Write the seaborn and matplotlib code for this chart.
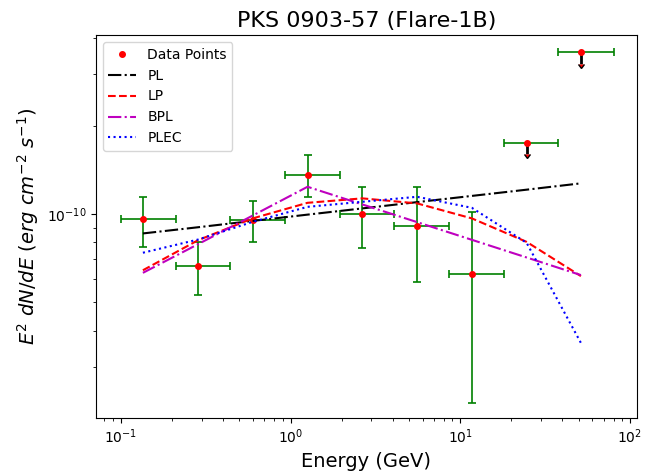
import numpy as np
import matplotlib
matplotlib.use("Agg")
import matplotlib.pyplot as plt
import seaborn as sns

# energy bins (GeV): centre, lower edge, upper edge
energy = [0.135, 0.286, 0.599, 1.26, 2.65, 5.57, 11.7, 24.6, 51.4]
e_low = [0.100, 0.211, 0.440, 0.928, 1.96, 4.09, 8.60, 18.2, 37.9]
e_high = [0.211, 0.440, 0.928, 1.96, 4.09, 8.60, 18.2, 37.9, 80.0]

# detected bins (E^2 dN/dE, erg cm^-2 s^-1)
flux = [9.59e-11, 6.65e-11, 9.52e-11, 1.363e-10, 1.00e-10, 9.12e-11, 6.24e-11]
flux_lo = [7.73e-11, 5.29e-11, 8.00e-11, 1.146e-10, 7.65e-11, 5.87e-11, 2.27e-11]
flux_hi = [1.146e-10, 8.04e-11, 1.108e-10, 1.59e-10, 1.24e-10, 1.24e-10, 1.018e-10]

# upper limits for the last two bins
ul_flux = [1.75e-10, 3.57e-10]

# fitted models at the bin centres
pl = [8.59e-11, 9.02e-11, 9.48e-11, 9.96e-11, 1.046e-10, 1.099e-10, 1.154e-10, 1.212e-10, 1.274e-10]
lp = [6.43e-11, 8.15e-11, 9.67e-11, 1.093e-10, 1.132e-10, 1.088e-10, 9.67e-11, 8.04e-11, 6.14e-11]
bpl = [6.30e-11, 7.90e-11, 9.89e-11, 1.240e-10, 1.079e-10, 9.39e-11, 8.17e-11, 7.11e-11, 6.19e-11]
plec = [7.38e-11, 8.19e-11, 9.41e-11, 1.059e-10, 1.102e-10, 1.146e-10, 1.051e-10, 7.98e-11, 3.63e-11]


def main():
    E = np.array(energy)
    xerr = np.array([E - np.array(e_low), np.array(e_high) - E])
    n = len(flux)
    f = np.array(flux)
    yerr = [f - np.array(flux_lo), np.array(flux_hi) - f]
    ul = np.array(ul_flux)

    fig, ax = plt.subplots(figsize=(6.52, 4.74), dpi=100)
    fig.subplots_adjust(left=0.147, right=0.977, top=0.926, bottom=0.118)
    ax.set_xscale("log")
    ax.set_yscale("log")

    # data points with error bars
    ax.errorbar(E[:n], f, xerr=xerr[:, :n], yerr=yerr, fmt="none",
                ecolor="green", elinewidth=1.2, capsize=3, capthick=1.2)
    ax.plot(E[:n], f, "o", color="red", ms=4, label="Data Points")

    # upper limits
    ax.errorbar(E[n:], ul, yerr=0.085 * ul, uplims=True, fmt="o", color="red",
                ms=4, ecolor="black", elinewidth=2, capsize=2)
    ax.errorbar(E[n:], ul, xerr=xerr[:, n:], fmt="none", ecolor="green",
                elinewidth=1.2, capsize=3, capthick=1.2)

    # models
    sns.lineplot(x=energy, y=pl, color="k", linestyle="-.", lw=1.5, label="PL", ax=ax)
    sns.lineplot(x=energy, y=lp, color="r", linestyle="--", lw=1.5, label="LP", ax=ax)
    sns.lineplot(x=energy, y=bpl, color="m", linestyle="-.", lw=1.5, label="BPL", ax=ax)
    sns.lineplot(x=energy, y=plec, color="b", linestyle=":", lw=1.5, label="PLEC", ax=ax)

    ax.set_xlim(0.0713, 110)
    ax.set_ylim(2.01e-11, 4.09e-10)

    ax.set_xlabel("Energy (GeV)", fontsize=14)
    ax.set_ylabel(r"$E^2\ dN/dE\ (erg\ cm^{-2}\ s^{-1})$", fontsize=14)
    ax.set_title("PKS 0903-57 (Flare-1B)", fontsize=16)
    ax.legend(loc="upper left")

    fig.savefig("out.png", dpi=100)


if __name__ == "__main__":
    main()
